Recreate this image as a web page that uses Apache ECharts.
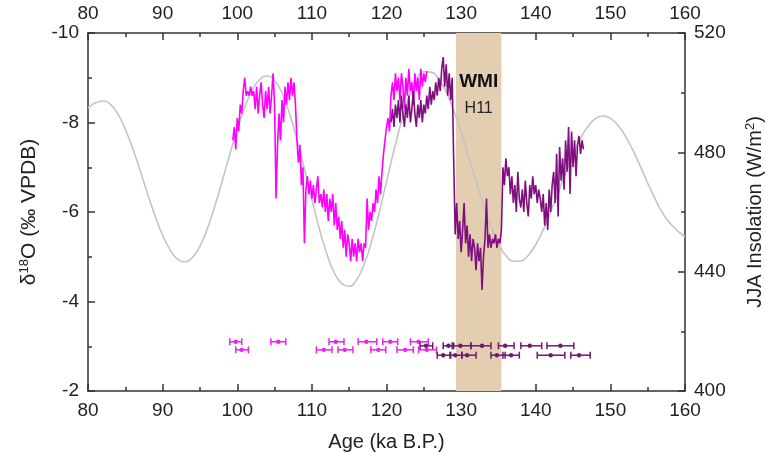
<!DOCTYPE html>
<html>
<head>
<meta charset="utf-8">
<script src="https://cdn.jsdelivr.net/npm/echarts@6/dist/echarts.min.js"></script>
<style>
  html, body { margin: 0; padding: 0; background: #fff; }
  #chart { width: 766px; height: 452px; }
</style>
</head>
<body>
<div id="chart"></div>
<script>
// JJA insolation (W/m2), one value per ka from 80 to 160
const insolationStart = 80;
const insolation = [
  494.9, 496.6, 497.2, 496.1, 492.9, 487.7, 481.2, 473.8, 466.0, 458.6,
  452.2, 447.3, 444.2, 443.3, 444.8, 448.6, 454.5, 462.0, 470.5, 479.3,
  487.7, 495.0, 500.8, 504.4, 505.6, 504.1, 499.8, 493.0, 484.3, 474.4,
  464.2, 454.4, 446.0, 439.7, 436.0, 435.1, 437.3, 442.4, 450.1, 459.6,
  470.1, 480.7, 490.4, 498.5, 504.3, 507.0, 506.9, 504.5, 500.2, 494.1,
  486.8, 478.7, 470.3, 462.3, 455.2, 449.4, 445.4, 443.5, 443.6, 445.5,
  449.1, 454.0, 460.0, 466.4, 473.0, 479.2, 484.6, 488.7, 491.3, 492.2,
  491.4, 489.1, 485.5, 480.8, 475.4, 469.7, 464.4, 459.6, 456.2, 453.7,
  451.7
];

// magenta d18O record, sampled every 0.2 ka from 99.4 ka
const magentaStart = 99.4;
const magentaStep = 0.2;
const magenta = [
  -7.6, -7.9, -7.4, -8.1, -7.8, -8.4, -8.2, -8.7, -9.0, -8.6,
  -8.7, -8.6, -8.8, -8.6, -8.7, -8.3, -8.8, -8.2, -8.6, -8.9,
  -8.4, -8.1, -8.7, -8.3, -8.8, -8.2, -8.6, -9.1, -8.4, -6.3,
  -7.5, -8.2, -7.6, -8.5, -8.0, -8.8, -8.4, -8.9, -8.5, -9.0,
  -8.6, -8.9, -8.4, -7.6, -7.1, -7.5, -6.6, -7.0, -5.3, -6.5,
  -6.8, -6.4, -6.7, -6.3, -6.6, -6.2, -6.5, -6.8, -6.2, -6.4,
  -6.1, -6.5, -6.0, -6.4, -5.8, -6.3, -6.0, -6.4, -5.7, -6.2,
  -5.6, -5.9, -5.4, -5.8, -5.2, -5.6, -5.0, -5.5, -5.3, -4.9,
  -5.4, -5.0, -5.3, -4.9, -5.4, -5.1, -5.3, -4.9, -5.3, -5.2,
  -6.3, -5.6, -6.0, -5.8, -6.2, -6.0, -6.5, -6.2, -6.8, -6.4,
  -6.9, -7.3, -7.6, -7.9, -8.1, -7.8, -8.6, -8.9, -8.5, -9.1,
  -8.7, -9.0, -8.5, -9.1, -8.8, -8.3, -9.0, -8.6, -9.2, -8.7,
  -8.9, -8.4, -9.1, -8.7, -9.0, -8.5, -9.2, -8.8, -9.1, -8.9,
  -9.15
];

// purple d18O record, sampled every 0.2 ka from 120.6 ka
const purpleStart = 120.6;
const purpleStep = 0.2;
const purple = [
  -8.0, -8.3, -7.9, -8.4, -8.1, -8.5, -8.0, -8.6, -8.2, -7.9,
  -8.4, -8.1, -8.6, -8.0, -8.3, -8.7, -8.2, -7.9, -8.4, -8.1,
  -8.5, -8.0, -8.4, -8.2, -8.6, -8.3, -8.8, -8.4, -8.7, -8.5,
  -8.9, -8.6, -9.0, -8.7, -9.2, -9.46, -8.8, -9.3, -8.6, -9.1,
  -8.5, -9.0, -7.2, -5.5, -6.2, -5.4, -5.8, -5.1, -5.6, -6.2,
  -5.3, -5.7, -5.0, -5.5, -4.9, -5.4, -5.2, -4.7, -5.3, -4.9,
  -5.2, -4.26, -5.0, -5.4, -6.3, -5.2, -5.5, -5.2, -5.4, -5.3,
  -5.5, -5.2, -5.4, -5.3, -5.6, -7.0, -6.6, -7.2, -6.8, -7.0,
  -6.4, -6.8, -6.2, -6.6, -6.0, -6.9, -6.3, -6.1, -6.5, -6.0,
  -6.7, -6.2, -5.9, -6.6, -6.3, -6.8, -6.4, -6.6, -6.2, -6.5,
  -6.3, -6.0, -6.4, -5.7, -6.2, -5.6, -6.5, -6.0, -6.6, -6.9,
  -6.2, -7.3, -5.9, -7.45, -6.7, -7.2, -6.5, -7.6, -6.9, -7.9,
  -6.4, -7.8, -7.0, -7.6, -6.8, -7.5, -7.7, -7.3, -7.6, -7.4
];

// U-Th ages with 2 sigma errors: [age, low, high, row level on d18O axis]
const magentaAges = [
  [99.8, 99.0, 100.6, -3.10], [105.5, 104.5, 106.5, -3.10], [113.2, 112.3, 114.3, -3.10],
  [117.3, 116.2, 118.7, -3.10], [120.5, 119.5, 121.5, -3.10], [124.3, 123.2, 125.6, -3.10],
  [100.6, 99.8, 101.5, -2.92], [111.6, 110.6, 112.7, -2.92], [114.4, 113.5, 115.5, -2.92],
  [118.9, 117.9, 119.9, -2.92], [122.5, 121.4, 123.6, -2.92], [125.4, 124.3, 126.7, -2.92]
];
const purpleAges = [
  [125.3, 124.5, 126.2, -3.01], [128.3, 127.6, 129.0, -3.01], [129.9, 128.8, 131.3, -3.01],
  [132.8, 131.3, 134.0, -3.01], [135.9, 135.0, 137.1, -3.01], [139.2, 138.0, 140.8, -3.01],
  [143.3, 141.5, 145.1, -3.01],
  [127.6, 126.8, 128.5, -2.80], [129.2, 128.6, 130.1, -2.80], [130.8, 130.1, 132.0, -2.80],
  [134.8, 134.0, 135.9, -2.80], [136.7, 135.6, 137.8, -2.80], [142.0, 140.2, 143.9, -2.80],
  [145.8, 144.7, 147.3, -2.80]
];

// WMI / H11 interval
const wmiBand = [129.3, 135.4];

const toPairs = (start, step, vals) => vals.map((v, i) => [+(start + i * step).toFixed(2), v]);

const chart = echarts.init(document.getElementById('chart'));

const font = 'Liberation Sans, Arial, sans-serif';
const axisColor = '#333';

function errorBar(params, api) {
  const lo = api.coord([api.value(1), api.value(3)]);
  const hi = api.coord([api.value(2), api.value(3)]);
  const mid = api.coord([api.value(0), api.value(3)]);
  const color = api.visual('color');
  const st = { stroke: color, lineWidth: 1.5 };
  const cap = 3.5;
  return {
    type: 'group',
    children: [
      { type: 'line', shape: { x1: lo[0], y1: lo[1], x2: hi[0], y2: hi[1] }, style: st },
      { type: 'line', shape: { x1: lo[0], y1: lo[1] - cap, x2: lo[0], y2: lo[1] + cap }, style: st },
      { type: 'line', shape: { x1: hi[0], y1: hi[1] - cap, x2: hi[0], y2: hi[1] + cap }, style: st },
      { type: 'circle', shape: { cx: mid[0], cy: mid[1], r: 2.2 }, style: { fill: color } }
    ]
  };
}

const xAxisBase = {
  type: 'value',
  min: 80,
  max: 160,
  interval: 10,
  axisLine: { show: true, lineStyle: { color: axisColor, width: 1.5 } },
  axisTick: { show: true, inside: true, length: 7, lineStyle: { color: axisColor, width: 1.5 } },
  minorTick: { show: true, splitNumber: 2, length: 4, lineStyle: { color: axisColor, width: 1.5 } },
  splitLine: { show: false },
  axisLabel: { fontFamily: font, fontSize: 19, color: '#222', margin: 10 }
};

const titleRich = (size) => ({
  t: { fontFamily: font, fontSize: size, color: '#222', lineHeight: 22 },
  s: { fontFamily: font, fontSize: 13, color: '#222', verticalAlign: 'top', lineHeight: 22 }
});

const option = {
  animation: false,
  grid: { left: 88, right: 81, top: 33, bottom: 61, outerBoundsMode: 'none' },
  xAxis: [
    Object.assign({}, xAxisBase, {
      position: 'bottom',
      name: 'Age (ka B.P.)',
      nameLocation: 'middle',
      nameGap: 41,
      nameTextStyle: { fontFamily: font, fontSize: 20, color: '#222' }
    }),
    Object.assign({}, xAxisBase, { position: 'top' })
  ],
  yAxis: [
    {
      type: 'value',
      min: -10,
      max: -2,
      interval: 2,
      inverse: true,
      position: 'left',
      axisLine: { show: true, lineStyle: { color: axisColor, width: 1.5 } },
      axisTick: { show: true, inside: true, length: 7, lineStyle: { color: axisColor, width: 1.5 } },
      minorTick: { show: true, splitNumber: 2, length: 4, lineStyle: { color: axisColor, width: 1.5 } },
      splitLine: { show: false },
      axisLabel: { fontFamily: font, fontSize: 19, color: '#222', margin: 9 },
      name: '{t|δ}{s|18}{t|O (‰ VPDB)}',
      nameLocation: 'middle',
      nameRotate: 90,
      nameGap: 48,
      nameTextStyle: { rich: titleRich(21) }
    },
    {
      type: 'value',
      min: 400,
      max: 520,
      interval: 40,
      position: 'right',
      axisLine: { show: true, lineStyle: { color: axisColor, width: 1.5 } },
      axisTick: { show: true, inside: true, length: 7, lineStyle: { color: axisColor, width: 1.5 } },
      minorTick: { show: true, splitNumber: 2, length: 4, lineStyle: { color: axisColor, width: 1.5 } },
      splitLine: { show: false },
      axisLabel: { fontFamily: font, fontSize: 19, color: '#222', margin: 9 },
      name: '{t|JJA Insolation (W/m}{s|2}{t|)}',
      nameLocation: 'middle',
      nameRotate: 90,
      nameGap: 59,
      nameTextStyle: { rich: titleRich(20) }
    }
  ],
  series: [
    {
      name: 'insolation',
      type: 'line',
      xAxisIndex: 0,
      yAxisIndex: 1,
      smooth: true,
      showSymbol: false,
      z: 2,
      lineStyle: { color: '#c4c4c4', width: 1.6 },
      data: insolation.map((v, i) => [insolationStart + i, v]),
      markArea: {
        silent: true,
        itemStyle: { color: '#e4ceb1' },
        label: {
          show: true,
          position: 'insideTop',
          distance: 36,
          formatter: '{a|WMI}\n{b|H11}',
          rich: {
            a: { fontFamily: font, fontSize: 19, fontWeight: 'bold', color: '#111', lineHeight: 26 },
            b: { fontFamily: font, fontSize: 16, color: '#222', lineHeight: 28 }
          }
        },
        data: [[{ xAxis: wmiBand[0] }, { xAxis: wmiBand[1] }]]
      }
    },
    {
      name: 'magenta',
      type: 'line',
      yAxisIndex: 0,
      showSymbol: false,
      z: 3,
      lineStyle: { color: '#ff00ff', width: 1.6 },
      data: toPairs(magentaStart, magentaStep, magenta)
    },
    {
      name: 'purple',
      type: 'line',
      yAxisIndex: 0,
      showSymbol: false,
      z: 4,
      lineStyle: { color: '#7f0f7f', width: 1.6 },
      data: toPairs(purpleStart, purpleStep, purple)
    },
    {
      name: 'magentaAges',
      type: 'custom',
      yAxisIndex: 0,
      z: 5,
      itemStyle: { color: '#f020f0' },
      renderItem: errorBar,
      encode: { x: [0, 1, 2], y: 3 },
      data: magentaAges
    },
    {
      name: 'purpleAges',
      type: 'custom',
      yAxisIndex: 0,
      z: 6,
      itemStyle: { color: '#6e1a6e' },
      renderItem: errorBar,
      encode: { x: [0, 1, 2], y: 3 },
      data: purpleAges
    }
  ]
};

chart.setOption(option);
</script>
</body>
</html>
